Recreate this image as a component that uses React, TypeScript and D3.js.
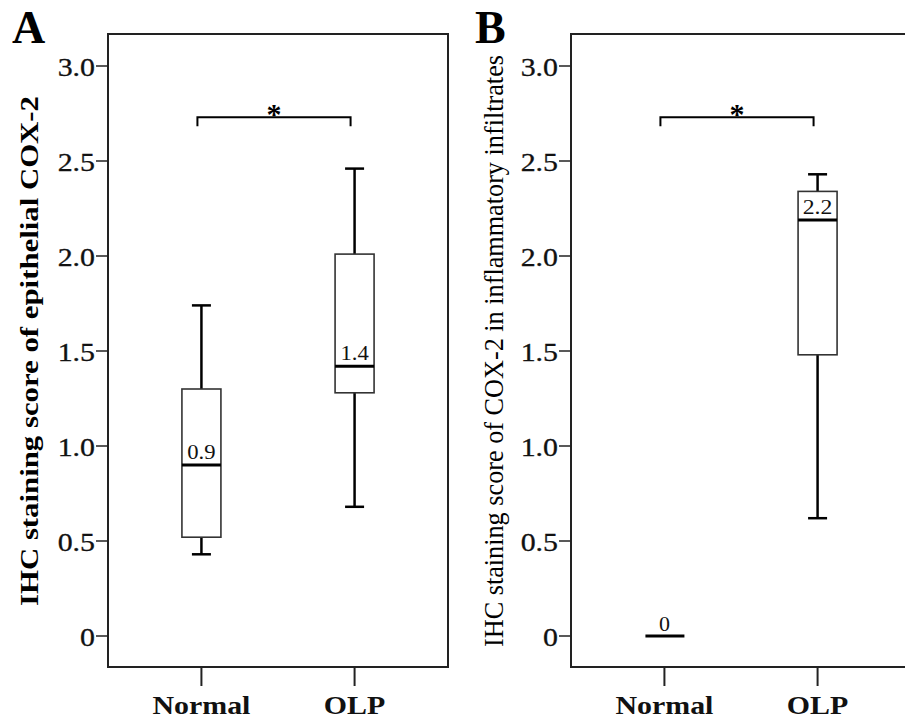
import React from "react";
import * as d3 from "d3";

const categories = ["Normal", "OLP"];
const yTicks = [0, 0.5, 1.0, 1.5, 2.0, 2.5, 3.0];
const yTickLabels = ["0", "0.5", "1.0", "1.5", "2.0", "2.5", "3.0"];

// Panel A: epithelial COX-2
const aWhiskerLow = [0.43, 0.68];
const aQ1 = [0.52, 1.28];
const aMedian = [0.9, 1.42];
const aQ3 = [1.3, 2.01];
const aWhiskerHigh = [1.74, 2.46];
const aMedianLabels = ["0.9", "1.4"];

// Panel B: COX-2 in inflammatory infiltrates
const bWhiskerLow = [0, 0.62];
const bQ1 = [0, 1.48];
const bMedian = [0, 2.19];
const bQ3 = [0, 2.34];
const bWhiskerHigh = [0, 2.43];
const bMedianLabels = ["0", "2.2"];

const bracketValue = 2.73;
const significance = "*";

const FONT = "'Liberation Serif', 'Times New Roman', Times, serif";

type PanelProps = {
  left: number;
  letter: string;
  yLabel: string;
  yLabelBold: boolean;
  yLabelX: number;
  yLabelLen: number;
  yLabelSize: number;
  lo: number[];
  q1: number[];
  med: number[];
  q3: number[];
  hi: number[];
  labels: string[];
  labelSize: number;
};

const top = 34;
const bottom = 667;
const frameW = 340;

const y = d3.scaleLinear().domain([0, 3]).range([636, 66]);

function Panel(p: PanelProps) {
  const x = d3
    .scalePoint<string>()
    .domain(categories)
    .range([p.left, p.left + frameW])
    .padding(0.61);
  const boxW = 39;
  const capW = 19;
  const x0 = x(categories[0])!;
  const x1 = x(categories[1])!;
  const by = y(bracketValue);
  return (
    <g>
      <text
        x={p.left - 96}
        y={43}
        fontFamily={FONT}
        fontWeight="bold"
        fontSize={46}
        fill="#000"
      >
        {p.letter}
      </text>
      <text
        transform={`translate(${p.yLabelX},351) rotate(-90)`}
        textAnchor="middle"
        fontFamily={FONT}
        fontWeight={p.yLabelBold ? "bold" : "normal"}
        fontSize={p.yLabelSize}
        textLength={p.yLabelLen}
        lengthAdjust="spacingAndGlyphs"
        fill="#000"
      >
        {p.yLabel}
      </text>
      <rect
        x={p.left}
        y={top}
        width={frameW}
        height={bottom - top}
        fill="none"
        stroke="#222"
        strokeWidth={2}
      />
      {yTicks.map((t, i) => (
        <g key={i}>
          <line
            x1={p.left - 12}
            x2={p.left}
            y1={y(t)}
            y2={y(t)}
            stroke="#222"
            strokeWidth={1.5}
          />
          <text
            transform={`translate(${p.left - 13},${y(t) + 10}) scale(1.15,1)`}
            textAnchor="end"
            fontFamily={FONT}
            fontSize={26}
            fill="#111"
            stroke="#111"
            strokeWidth={0.3}
          >
            {yTickLabels[i]}
          </text>
        </g>
      ))}
      {categories.map((c) => (
        <g key={c}>
          <line
            x1={x(c)!}
            x2={x(c)!}
            y1={bottom}
            y2={686}
            stroke="#222"
            strokeWidth={2}
          />
          <text
            transform={`translate(${x(c)!},714) scale(1.15,1)`}
            textAnchor="middle"
            fontFamily={FONT}
            fontWeight="bold"
            fontSize={26}
            fill="#111"
          >
            {c}
          </text>
        </g>
      ))}
      {categories.map((c, i) => {
        const cx = x(c)!;
        const flat = p.q1[i] === p.q3[i] && p.lo[i] === p.hi[i];
        if (flat) {
          return (
            <g key={c}>
              <line
                x1={cx - boxW / 2 + 0.5}
                x2={cx + boxW / 2 + 0.5}
                y1={y(p.med[i])}
                y2={y(p.med[i])}
                stroke="#000"
                strokeWidth={3}
              />
              <text
                x={cx}
                y={y(p.med[i]) - 5}
                textAnchor="middle"
                fontFamily={FONT}
                fontSize={p.labelSize}
                fill="#111"
              >
                {p.labels[i]}
              </text>
            </g>
          );
        }
        return (
          <g key={c}>
            <line x1={cx} x2={cx} y1={y(p.hi[i])} y2={y(p.q3[i])} stroke="#000" strokeWidth={2.5} />
            <line x1={cx} x2={cx} y1={y(p.q1[i])} y2={y(p.lo[i])} stroke="#000" strokeWidth={2.5} />
            <line x1={cx - capW / 2} x2={cx + capW / 2} y1={y(p.hi[i])} y2={y(p.hi[i])} stroke="#000" strokeWidth={2.5} />
            <line x1={cx - capW / 2} x2={cx + capW / 2} y1={y(p.lo[i])} y2={y(p.lo[i])} stroke="#000" strokeWidth={2.5} />
            <rect
              x={cx - boxW / 2}
              y={y(p.q3[i])}
              width={boxW}
              height={y(p.q1[i]) - y(p.q3[i])}
              fill="#fff"
              stroke="#333"
              strokeWidth={1.6}
            />
            <line
              x1={cx - boxW / 2}
              x2={cx + boxW / 2}
              y1={y(p.med[i])}
              y2={y(p.med[i])}
              stroke="#000"
              strokeWidth={3}
            />
            <text
              transform={`translate(${cx},${y(p.med[i]) - 6}) scale(1.08,1)`}
              textAnchor="middle"
              fontFamily={FONT}
              fontSize={p.labelSize}
              fill="#111"
            >
              {p.labels[i]}
            </text>
          </g>
        );
      })}
      <path
        d={`M${x0 - 4},${by + 9} V${by} H${x1 - 4} V${by + 9}`}
        fill="none"
        stroke="#000"
        strokeWidth={2}
      />
      <text
        x={(x0 + x1) / 2 - 4}
        y={by + 7}
        textAnchor="middle"
        fontFamily={FONT}
        fontWeight="bold"
        fontSize={30}
        fill="#000"
      >
        {significance}
      </text>
    </g>
  );
}

export default function App() {
  return (
    <svg
      width={905}
      height={719}
      viewBox="0 0 905 719"
      style={{ position: "absolute", left: 0, top: 0, background: "#fff" }}
    >
      <rect x={0} y={0} width={905} height={719} fill="#fff" />
      <Panel
        left={108}
        letter="A"
        yLabel="IHC staining score of epithelial COX-2"
        yLabelBold={true}
        yLabelX={38}
        yLabelLen={510}
        yLabelSize={26}
        lo={aWhiskerLow}
        q1={aQ1}
        med={aMedian}
        q3={aQ3}
        hi={aWhiskerHigh}
        labels={aMedianLabels}
        labelSize={21}
      />
      <Panel
        left={571}
        letter="B"
        yLabel="IHC staining score of COX-2 in inflammatory infiltrates"
        yLabelBold={false}
        yLabelX={503}
        yLabelLen={592}
        yLabelSize={27}
        lo={bWhiskerLow}
        q1={bQ1}
        med={bMedian}
        q3={bQ3}
        hi={bWhiskerHigh}
        labels={bMedianLabels}
        labelSize={22}
      />
    </svg>
  );
}
